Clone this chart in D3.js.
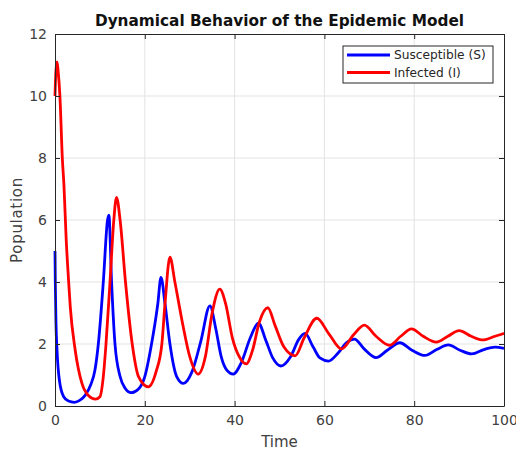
<!DOCTYPE html>
<html lang="en">
<head>
<title>Dynamical Behavior of the Epidemic Model</title>
<meta charset="utf-8">
<script src="https://cdn.jsdelivr.net/npm/d3@7"></script>
<style type="text/css">
  body { margin: 0; background: #fff; font-family: 'DejaVu Sans', sans-serif; }
  svg { display: block; }
</style>
</head>
<body>
<div id="chart"></div>
<script>

/* Data */
/* ========================= */

// Susceptible (S)
var tS = [0, 0.07, 0.22, 0.45, 0.97, 1.93, 3.0, 4.3, 5.5, 6.75, 8.0, 8.9, 9.65, 10.76, 11.7, 12.0, 12.6, 13.36, 14.5, 15.5, 17.0,
  18.6, 20.0, 21.5, 22.9, 23.6, 24.5, 25.6, 27.1, 28.6, 30.5, 32.5, 34.5, 35.8, 37.0, 38.3, 39.7, 41.5, 43.5, 45.3,
  47.0, 48.5, 50.3, 52.5, 54.3, 55.7, 57.5, 59.0, 60.9, 63.0, 65.0, 66.7, 68.8, 71.5, 74.0, 76.8, 79.5, 82.4, 85.0,
  87.6, 90.2, 92.8, 95.5, 98.0, 100];
var valS = [5.0, 3.96, 2.67, 1.8, 0.84, 0.3, 0.16, 0.12, 0.18, 0.35, 0.7, 1.16, 2.0, 4.0, 6.0, 6.16, 4.0, 2.0, 0.95, 0.6, 0.43,
  0.55, 0.95, 2.0, 3.3, 4.15, 3.3, 2.0, 0.95, 0.73, 1.1, 2.1, 3.23, 2.5, 1.6, 1.15, 1.03, 1.4, 2.2, 2.67,
  2.1, 1.55, 1.29, 1.6, 2.15, 2.34, 1.9, 1.55, 1.45, 1.7, 2.05, 2.16, 1.85, 1.56, 1.8, 2.04, 1.8, 1.63, 1.82,
  1.97, 1.8, 1.68, 1.82, 1.9, 1.86];

// Infected (I)
var tI = [0, 0.2, 0.45, 0.7, 1.1, 1.63, 2.0, 2.5, 3.0, 3.4, 4.5, 6.0, 7.5, 9.0, 10.0, 10.76, 11.36, 12.25, 13.1, 13.7,
  14.5, 15.7, 17.2, 18.6, 20.8, 22.5, 23.8, 24.5, 25.6, 26.7, 28.4, 30.0, 31.9, 33.5, 35.0, 36.7, 38.0, 39.5,
  41.0, 42.6, 44.0, 45.5, 47.4, 49.0, 51.0, 53.5, 55.5, 58.3, 61.0, 63.8, 66.5, 68.9, 71.5, 74.5, 77.0, 79.4,
  82.0, 84.9, 87.5, 90.0, 92.7, 95.3, 98.0, 100];
var valI = [10.0, 10.8, 11.1, 10.8, 9.98, 8.0, 7.1, 5.35, 4.1, 3.2, 1.8, 0.73, 0.33, 0.22, 0.3, 0.95, 2.0, 4.0, 6.0, 6.73,
  6.0, 4.0, 2.0, 0.95, 0.62, 1.1, 2.0, 3.3, 4.8, 4.0, 2.67, 1.6, 1.03, 1.6, 3.0, 3.77, 3.3, 2.2,
  1.6, 1.36, 1.8, 2.7, 3.17, 2.6, 1.9, 1.62, 2.2, 2.83, 2.33, 1.84, 2.3, 2.61, 2.25, 1.96, 2.25, 2.49,
  2.25, 2.06, 2.25, 2.43, 2.25, 2.13, 2.25, 2.34];

var xTicks = [0, 20, 40, 60, 80, 100];
var yTicks = [0, 2, 4, 6, 8, 10, 12];

var seriesNames = ['Susceptible (S)', 'Infected (I)'];
var seriesColors = ['#0000ff', '#ff0000'];


/* Layout */
/* ====== */

var width = 516,
    height = 453,
    margin = { top: 34, right: 12, bottom: 47, left: 55 },
    plotW = width - margin.left - margin.right,
    plotH = height - margin.top - margin.bottom,
    axisColor = '#262626';

var svg = d3.select('#chart').append('svg')
    .attr('width', width)
    .attr('height', height);

var x = d3.scaleLinear().domain([0, 100]).range([0, plotW]);
var y = d3.scaleLinear().domain([0, 12]).range([plotH, 0]);

var g = svg.append('g')
    .attr('transform', 'translate(' + margin.left + ',' + margin.top + ')');

// Grid
g.append('g').selectAll('line.vx')
  .data(xTicks.slice(1, -1))
  .join('line')
    .attr('x1', function(d) { return x(d); })
    .attr('x2', function(d) { return x(d); })
    .attr('y1', 0)
    .attr('y2', plotH)
    .attr('stroke', '#e3e3e3')
    .attr('stroke-width', 1);

g.append('g').selectAll('line.hy')
  .data(yTicks.slice(1, -1))
  .join('line')
    .attr('x1', 0)
    .attr('x2', plotW)
    .attr('y1', function(d) { return y(d); })
    .attr('y2', function(d) { return y(d); })
    .attr('stroke', '#e3e3e3')
    .attr('stroke-width', 1);

// Lines
var line = d3.line()
    .x(function(d) { return x(d[0]); })
    .y(function(d) { return y(d[1]); })
    .curve(d3.curveMonotoneX);

var series = [d3.zip(tS, valS), d3.zip(tI, valI)];

g.append('g').selectAll('path')
  .data(series)
  .join('path')
    .attr('d', line)
    .attr('fill', 'none')
    .attr('stroke', function(d, i) { return seriesColors[i]; })
    .attr('stroke-width', 2.8)
    .attr('stroke-linejoin', 'round');

// Axes (ticks inside, on all four sides)
var fmt = d3.format('d');

g.append('g')
    .attr('transform', 'translate(0,' + plotH + ')')
    .call(d3.axisBottom(x).tickValues(xTicks).tickSizeInner(-5).tickSizeOuter(0).tickPadding(9).tickFormat(fmt));

g.append('g')
    .call(d3.axisTop(x).tickValues(xTicks).tickSizeInner(-5).tickSizeOuter(0).tickFormat(''));

g.append('g')
    .call(d3.axisLeft(y).tickValues(yTicks).tickSizeInner(-5).tickSizeOuter(0).tickPadding(8).tickFormat(fmt));

g.append('g')
    .attr('transform', 'translate(' + plotW + ',0)')
    .call(d3.axisRight(y).tickValues(yTicks).tickSizeInner(-5).tickSizeOuter(0).tickFormat(''));

g.selectAll('.domain').attr('stroke', axisColor);
g.selectAll('.tick line').attr('stroke', axisColor);
g.selectAll('.tick text')
    .attr('fill', '#404040')
    .style('font-family', "'DejaVu Sans', sans-serif")
    .style('font-size', '14px');

// Title and labels
svg.append('text')
    .attr('x', margin.left + plotW / 2)
    .attr('y', 26)
    .attr('text-anchor', 'middle')
    .style('font-size', '15.3px')
    .style('font-weight', 'bold')
    .attr('fill', '#111')
    .text('Dynamical Behavior of the Epidemic Model');

svg.append('text')
    .attr('x', margin.left + plotW / 2)
    .attr('y', 447)
    .attr('text-anchor', 'middle')
    .style('font-size', '15px')
    .attr('fill', '#404040')
    .text('Time');

svg.append('text')
    .attr('transform', 'translate(22,' + (margin.top + plotH / 2) + ') rotate(-90)')
    .attr('text-anchor', 'middle')
    .style('font-size', '15px')
    .style('letter-spacing', '0.7px')
    .attr('fill', '#404040')
    .text('Population');

// Legend
var legend = g.append('g')
    .attr('transform', 'translate(' + (plotW - 161) + ',12)');

legend.append('rect')
    .attr('width', 150)
    .attr('height', 37)
    .attr('fill', '#fff')
    .attr('stroke', axisColor)
    .attr('stroke-width', 1);

var item = legend.selectAll('g.item')
  .data(seriesNames)
  .join('g')
    .attr('transform', function(d, i) { return 'translate(0,' + (9 + i * 17.5) + ')'; });

item.append('line')
    .attr('x1', 4)
    .attr('x2', 47)
    .attr('stroke', function(d, i) { return seriesColors[i]; })
    .attr('stroke-width', 2.8);

item.append('text')
    .attr('x', 51)
    .attr('dy', '0.35em')
    .style('font-size', '12.2px')
    .attr('fill', '#262626')
    .text(function(d) { return d; });

</script>
</body>
</html>
